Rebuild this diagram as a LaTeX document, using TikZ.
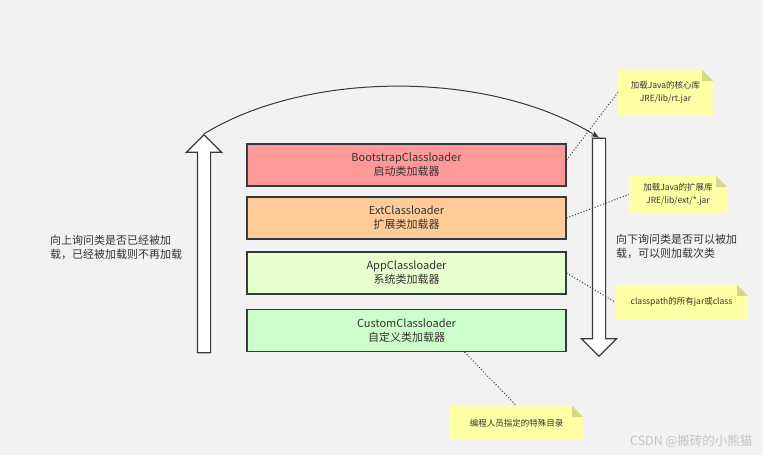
\documentclass[tikz,border=0pt]{standalone}
\usepackage{fontspec}
\setmainfont{Noto Sans CJK SC}
\usepackage{tikz}
\usetikzlibrary{arrows.meta, positioning, shapes.arrows}
\definecolor{bggray}{HTML}{F2F2F2}
\definecolor{edgegray}{HTML}{36393D}
\definecolor{txtgray}{HTML}{333333}
\definecolor{bootred}{HTML}{FF9999}
\definecolor{extorange}{HTML}{FFCC99}
\definecolor{applime}{HTML}{E6FFCC}
\definecolor{customgreen}{HTML}{CCFFCC}
\definecolor{noteyellow}{HTML}{FFFFA6}
\definecolor{notefold}{HTML}{D6D68E}
\definecolor{markgray}{HTML}{C4C4C4}

\tikzset{
  loaderbox/.style={draw=edgegray, line width=1.2pt, minimum width=319pt, minimum height=42pt,
                    align=center, text=txtgray, font=\fontsize{11}{14}\selectfont},
  notebox/.style={fill=noteyellow, align=center, text=txtgray, inner sep=0pt,
                  font=\fontsize{8.5}{13}\selectfont,
                  path picture={
                    \fill[bggray] ([xshift=-11pt]path picture bounding box.north east)
                      -- (path picture bounding box.north east)
                      -- ([yshift=-11pt]path picture bounding box.north east) -- cycle;
                    \fill[notefold] ([xshift=-11pt]path picture bounding box.north east)
                      -- ([xshift=-11pt,yshift=-11pt]path picture bounding box.north east)
                      -- ([yshift=-11pt]path picture bounding box.north east) -- cycle;}},
  hintline/.style={dotted, line width=1pt, edgegray},
  sidetext/.style={align=left, anchor=west, text=txtgray, inner sep=0pt,
                   font=\fontsize{11}{13.5}\selectfont},
  bigarrow/.style={single arrow, draw=edgegray, fill=white, line width=1.2pt,
                   minimum height=218pt, minimum width=34pt, single arrow head extend=11pt,
                   inner xsep=0pt, inner ysep=6pt},
}

\begin{document}
\begin{tikzpicture}[x=1pt, y=-1pt]
    \fill[bggray] (0,0) rectangle (763,455);
    \useasboundingbox (0,0) rectangle (763,455);

    % the four loaders
    \node[loaderbox, fill=bootred] (boot) at (406.5,165) {BootstrapClassloader\\启动类加载器};
    \node[loaderbox, fill=extorange] (ext) at (406.5,218) {ExtClassloader\\扩展类加载器};
    \node[loaderbox, fill=applime] (app) at (406.5,273) {AppClassloader\\系统类加载器};
    \node[loaderbox, fill=customgreen] (custom) at (406.5,330.5) {CustomClassloader\\自定义类加载器};

    % up / down
    \node[bigarrow, rotate=90] (up) at (204,247) {};
    \node[bigarrow, rotate=-90] (down) at (599,244) {};
    \draw[-{Stealth[length=8pt, width=6pt]}, edgegray, line width=1pt]
        (up.tip) .. controls (308,70) and (490,70) .. (down.tail);

    \node[sidetext] (asks up) at (50,247.5) {向上询问类是否已经被加\\载，已经被加载则不再加载};
    \node[sidetext] (asks down) at (616,246.5) {向下询问类是否可以被加\\载，可以则加载次类};

    % notes
    \node[notebox, minimum width=95pt, minimum height=45pt] (rtnote) at (665.5,92.5)
        {加载Java的核心库\\JRE/lib/rt.jar};
    \node[notebox, minimum width=98pt, minimum height=37pt] (extnote) at (678,194.5)
        {加载Java的扩展库\\JRE/lib/ext/*.jar};
    \node[notebox, minimum width=133pt, minimum height=34pt] (cpnote) at (681.5,302)
        {classpath的所有jar或class};
    \node[notebox, minimum width=133pt, minimum height=34pt] (devnote) at (516.5,423)
        {编程人员指定的特殊目录};

    \draw[hintline] ([yshift=5pt]boot.east) -- (rtnote.west);
    \draw[hintline] (ext.east) -- (extnote.west);
    \draw[hintline] (app.east) -- (cpnote.west);
    \draw[hintline] ([xshift=58pt]custom.south) -- (devnote.north);

    \node[font=\fontsize{12.5}{14}\selectfont, text=markgray, anchor=east] (mark) at (756,441)
        {CSDN @搬砖的小熊猫};
\end{tikzpicture}
\end{document}
